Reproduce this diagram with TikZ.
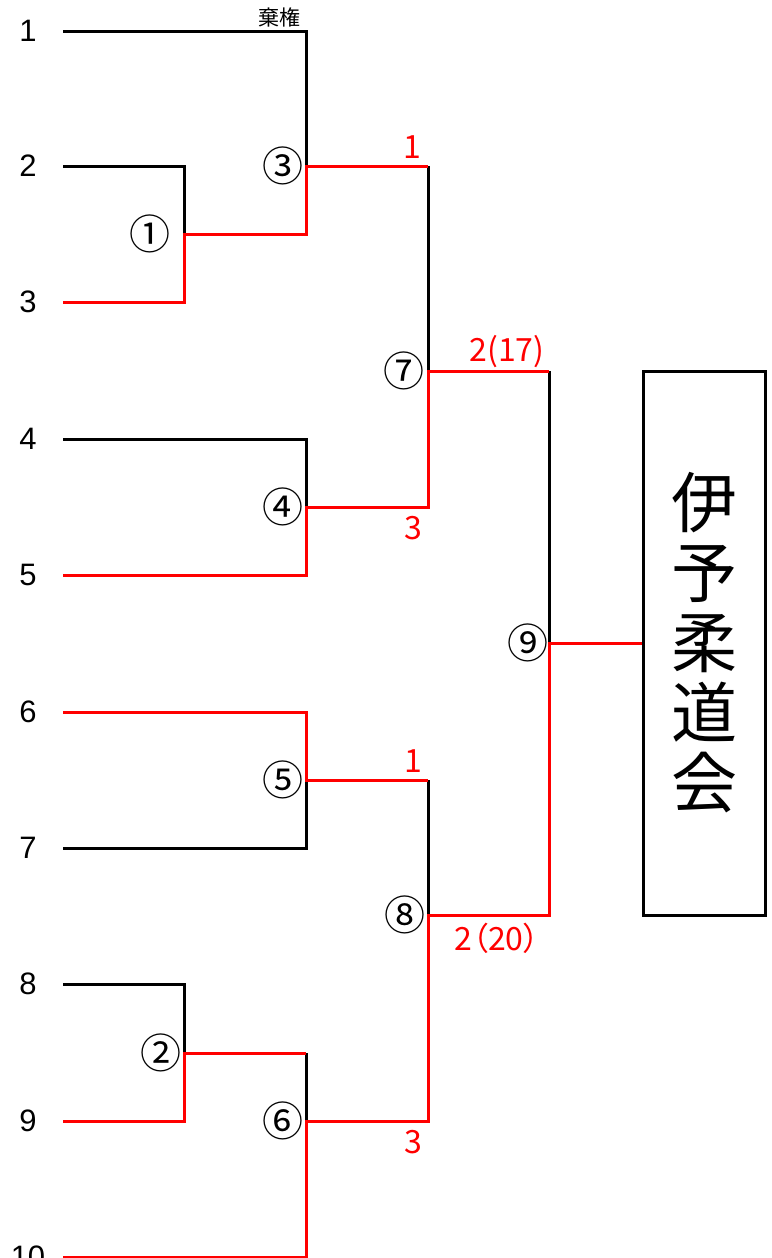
\documentclass[tikz,border=0pt]{standalone}
\usepackage{fontspec}
\setmainfont{Liberation Sans}
\newfontfamily\jp{Noto Sans CJK JP}
\newfontfamily\jpp[RawFeature=+palt]{Noto Sans CJK JP}
\usepackage{tikz}
\usetikzlibrary{calc}

\begin{document}
\begin{tikzpicture}[x=1pt, y=-1pt, line join=miter,
    win/.style={draw=red, line width=3pt},
    lose/.style={draw=black, line width=3pt},
    entry/.style={font=\fontsize{31}{31}\selectfont},
    bout/.style={font=\jp\fontsize{41}{41}\selectfont},
    score/.style={text=red, font=\jp\fontsize{32}{32}\selectfont}]
    \useasboundingbox (0,0) rectangle (771,1258);

    % entries
    \foreach \n/\y in {1/31,2/166,3/302,4/439,5/575,6/712,7/848,8/984,9/1121,10/1257} {
        \coordinate (r\n) at (63,\y);
        \node [entry] (e\n) at (28,\y) {\n};
    }

    % bouts
    \coordinate (m1) at (184,234);
    \coordinate (m2) at (184,1053);
    \coordinate (m3) at (306,166);
    \coordinate (m4) at (306,507);
    \coordinate (m5) at (306,780);
    \coordinate (m6) at (306,1121);
    \coordinate (m7) at (428,371);
    \coordinate (m8) at (428,915);
    \coordinate (m9) at (549,643);
    \node [bout] (b1) at (150,234) {①};
    \node [bout] (b2) at (161,1053) {②};
    \node [bout] (b3) at (283,166) {③};
    \node [bout] (b4) at (283,507) {④};
    \node [bout] (b5) at (283,780) {⑤};
    \node [bout] (b6) at (283,1121) {⑥};
    \node [bout] (b7) at (404,371) {⑦};
    \node [bout] (b8) at (405,915) {⑧};
    \node [bout] (b9) at (528,643) {⑨};

    % winner
    \node [draw, line width=3pt, minimum width=122pt, minimum height=544pt, inner sep=0pt,
        align=center, font=\jp\fontsize{66}{70}\selectfont] (champ) at (704,643) {伊\\予\\柔\\道\\会};

    % losing lines
    \draw [lose] (r1) -| (m3);
    \draw [lose] (r2) -| (m1);
    \draw [lose] (m3 -| m7) -- (m7);
    \draw [lose] (r4) -| (m4);
    \draw [lose] (m7 -| m9) -- (m9);
    \draw [lose] (r7) -| (m5);
    \draw [lose] (m5 -| m8) -- (m8);
    \draw [lose] (r8) -| (m2);
    \draw [lose] (m2 -| m6) -- (m6);

    % winning lines
    \draw [win] (r3) -| (m1) -| (m3) -- (m3 -| m7);
    \draw [win] (r5) -| (m4) -| (m7) -- (m7 -| m9);
    \draw [win] (r6) -| (m5) -- (m5 -| m8);
    \draw [win] (r9) -| (m2) -- (m2 -| m6);
    \draw [win] (r10) -| (m6) -| (m8) -| (m9) -- (champ.west);

    % scores
    \node [font=\jp\fontsize{21}{21}\selectfont] (kiken) at (279,17) {棄権};
    \node [score] (s3) at (412,147) {1};
    \node [score] (s4) at (413,528) {3};
    \node [score] (s7) at (507,352) {2(17)};
    \node [score] (s5) at (413,761) {1};
    \node [score] (s6) at (413,1142) {3};
    \node [score, font=\jpp\fontsize{32}{32}\selectfont] (s8) at (497,938) {2（20）};
\end{tikzpicture}
\end{document}
